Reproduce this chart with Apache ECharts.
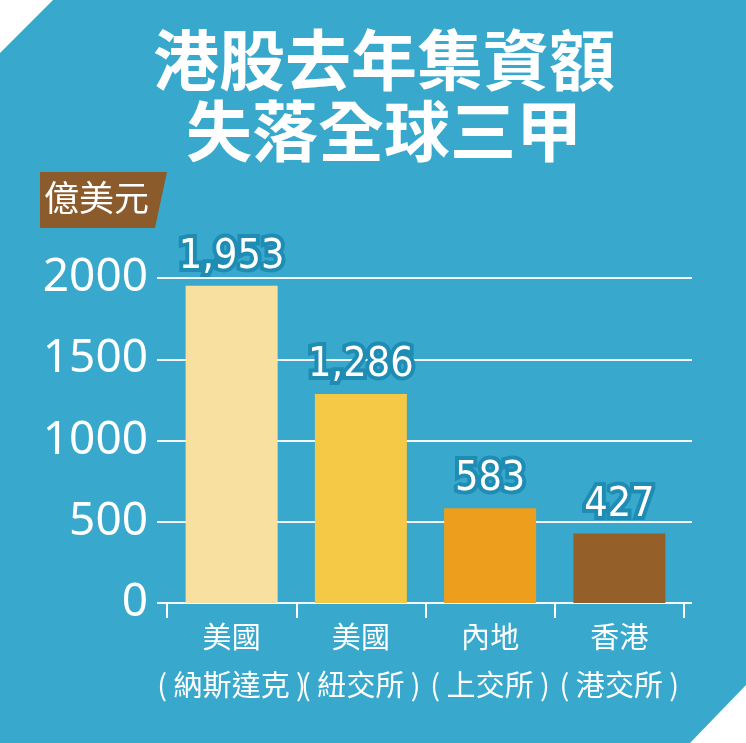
<!DOCTYPE html>
<html>
<head>
<meta charset="utf-8">
<script src="https://cdn.jsdelivr.net/npm/echarts@6/dist/echarts.min.js"></script>
<style>
  html, body { margin: 0; padding: 0; background: #38a9cd; }
  #main { width: 746px; height: 743px; }
</style>
</head>
<body>
<div id="main"></div>
<script>
// 數據
var categories = ['美國\n( 納斯達克 )', '美國\n( 紐交所 )', '內地\n( 上交所 )', '香港\n( 港交所 )'];
var values = [1953, 1286, 583, 427];
var barColors = ['#f8e1a0', '#f5c945', '#ec9e1c', '#955f2a'];
var yMin = 0, yMax = 2000, yStep = 500;
var titleText = '港股去年集資額\n失落全球三甲';
var unitText = '億美元';

var cjk = '"Noto Sans CJK TC", "Noto Sans", sans-serif';
var chart = echarts.init(document.getElementById('main'), null, { renderer: 'canvas' });

var option = {
  backgroundColor: '#38a9cd',
  animation: false,
  grid: [
    // 柱子
    { left: 167, right: 62, top: 278, bottom: 140 },
    // 分隔線（較寬）
    { left: 157, right: 54, top: 278, bottom: 140 }
  ],
  xAxis: [
    {
      type: 'category', gridIndex: 0, data: categories,
      axisLine: { show: false },
      axisTick: { show: true, length: 15, lineStyle: { color: '#fff', width: 2 } },
      axisLabel: { color: '#fff', fontSize: 29, lineHeight: 48, margin: 10, fontFamily: cjk, interval: 0 }
    },
    { type: 'value', gridIndex: 1, show: false }
  ],
  yAxis: [
    { type: 'value', gridIndex: 0, min: yMin, max: yMax, interval: yStep, show: false },
    {
      type: 'value', gridIndex: 1, min: yMin, max: yMax, interval: yStep,
      axisLine: { show: false }, axisTick: { show: false },
      axisLabel: {
        color: '#fff', fontSize: 46, margin: 9, fontFamily: '"Noto Sans", sans-serif',
        formatter: function (v) { return String(v); }
      },
      splitLine: { lineStyle: { color: '#f2f8fb', width: 2 } }
    }
  ],
  series: [{
    type: 'bar', xAxisIndex: 0, yAxisIndex: 0,
    barWidth: 92,
    data: values.map(function (v, i) { return { value: v, itemStyle: { color: barColors[i] } }; }),
    label: {
      show: true, position: 'top', distance: 8,
      color: '#fff', fontSize: 41,
      fontFamily: '"DejaVu Sans Condensed", "Noto Sans", sans-serif',
      textBorderColor: '#1f8cb4', textBorderWidth: 8,
      formatter: function (p) { return p.value.toLocaleString('en-US'); }
    }
  }],
  graphic: [
    { type: 'polygon', shape: { points: [[0, 0], [53, 0], [0, 53]] }, style: { fill: '#fff' } },
    { type: 'polygon', shape: { points: [[746, 685], [746, 743], [690, 743]] }, style: { fill: '#fff' } },
    // 標題
    {
      type: 'text', x: 384, y: 24,
      style: {
        text: titleText, fill: '#fff', fontSize: 66, fontWeight: 'bold', lineHeight: 71,
        fontFamily: cjk, align: 'center', verticalAlign: 'top'
      }
    },
    // 單位
    { type: 'polygon', shape: { points: [[40, 172], [167, 172], [155, 228], [40, 228]] }, style: { fill: '#8c5b2c' } },
    {
      type: 'text', left: 44, top: 180,
      style: { text: unitText, fill: '#fff', fontSize: 35, fontFamily: cjk }
    }
  ]
};
chart.setOption(option);
</script>
</body>
</html>
